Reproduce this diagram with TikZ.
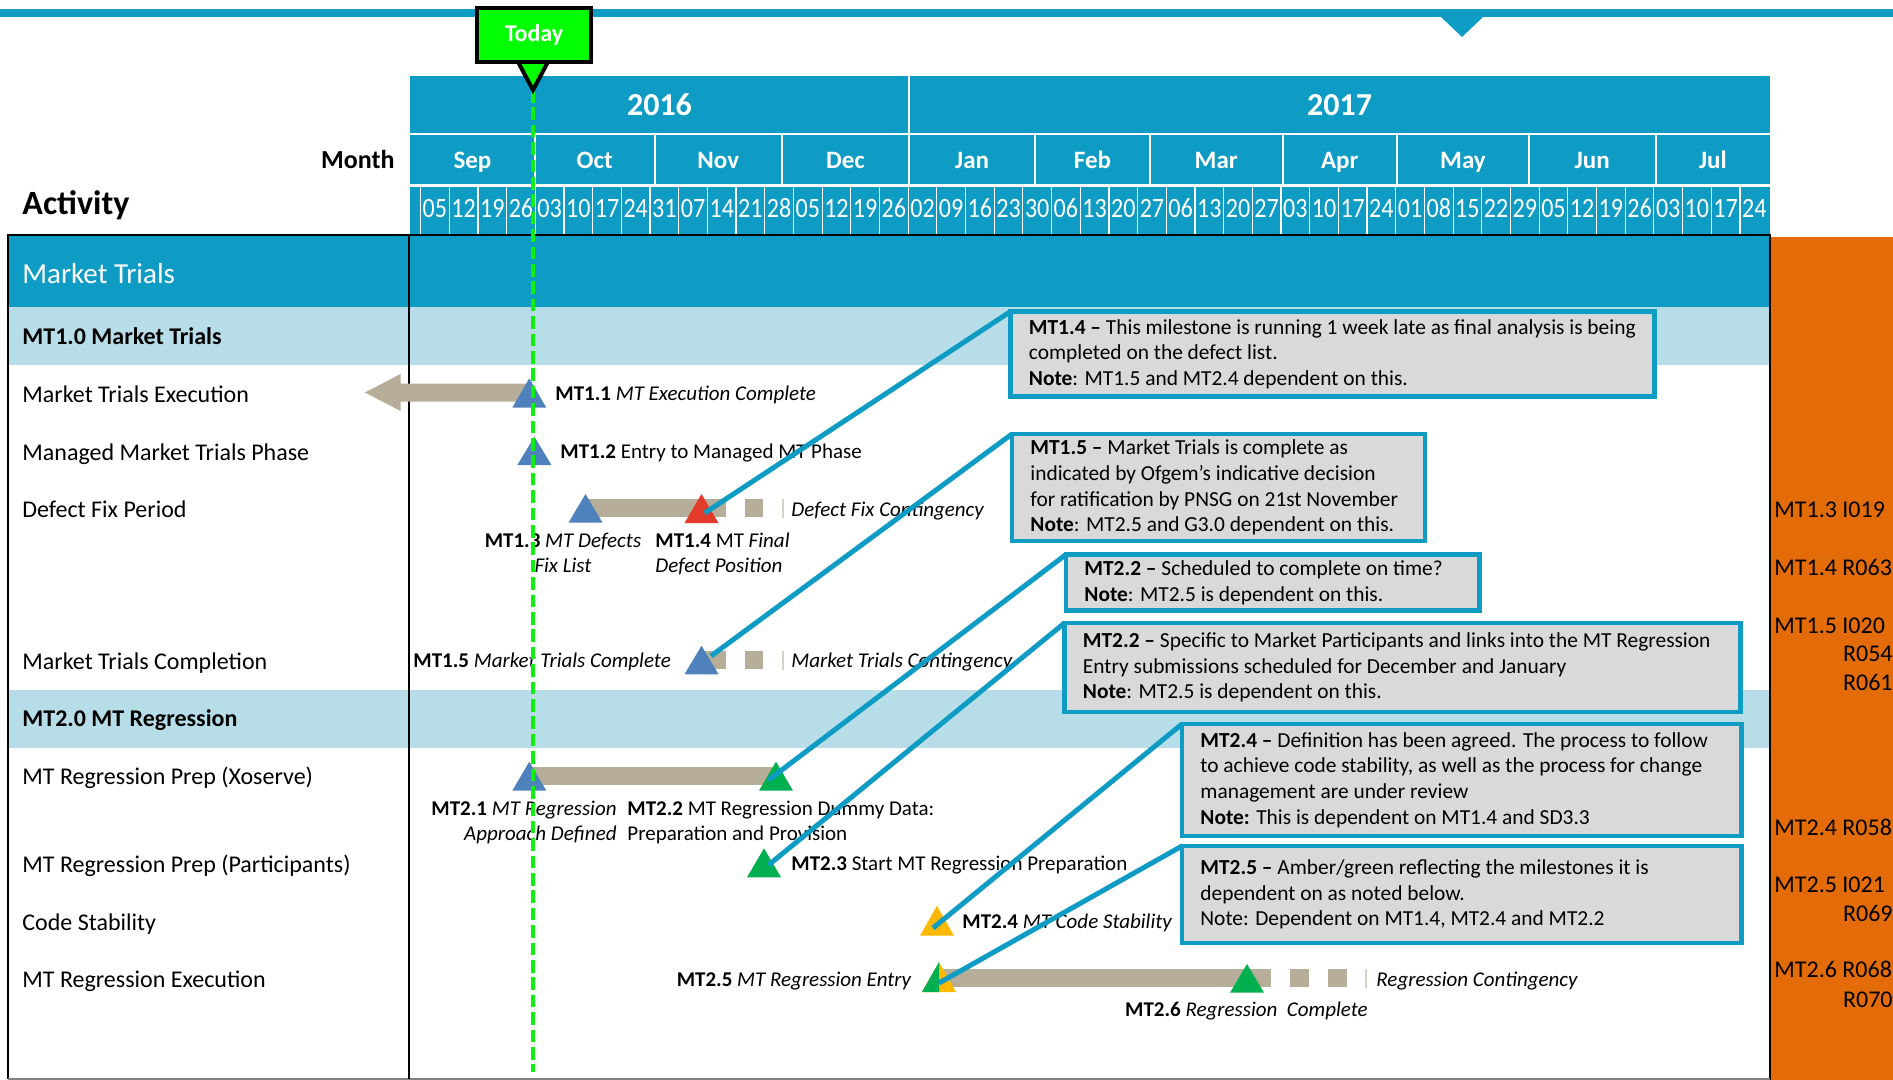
\documentclass[tikz,border=0pt]{standalone}
\usepackage{fontspec}
\setmainfont{Carlito}
\usepackage{graphicx}
\definecolor{hblue}{HTML}{0E9CC4}
\definecolor{lblue}{HTML}{B7DEE8}
\definecolor{cgray}{HTML}{D9D9D9}
\definecolor{tanc}{HTML}{B6AE98}
\definecolor{mblue}{HTML}{4F81BD}
\definecolor{mred}{HTML}{E23B2B}
\definecolor{mgreen}{HTML}{00B050}
\definecolor{mamber}{HTML}{FFB800}
\definecolor{orangec}{HTML}{E36C09}
\definecolor{todayg}{HTML}{00FF00}
\definecolor{dashg}{HTML}{10F010}
\newcommand\mstri[4]{\fill[#4] ({#1-17},#2) -- ({#1+17},#2) -- (#1,#3) -- cycle;}
\begin{document}
\begin{tikzpicture}[x=0.5pt,y=-0.5pt,
  rowlab/.style={font=\fontsize{12}{14}\selectfont, anchor=base west, inner sep=0pt},
  mslab/.style={font=\fontsize{10.5}{12.7}\selectfont, anchor=base west, inner sep=0pt},
  orlab/.style={font=\fontsize{12}{14}\selectfont, inner sep=0pt},
  datelab/.style={font=\fontsize{14}{16}\selectfont, text=white, anchor=base, inner sep=0pt},
  monlab/.style={font=\bfseries\fontsize{12.5}{15}\selectfont, text=white, anchor=base, inner sep=0pt},
  yearlab/.style={font=\bfseries\fontsize{16}{19}\selectfont, text=white, anchor=base, inner sep=0pt},
  cbox/.style={draw=hblue, line width=2.2pt, fill=cgray, anchor=north west, outer sep=0pt, inner sep=0pt},
  ctext/.style={font=\fontsize{10.7}{12.8}\selectfont, align=left, inner sep=0pt, anchor=west},
  cline/.style={draw=hblue, line width=2.5pt},
  contline/.style={draw=tanc!55, line width=1pt},
]
\useasboundingbox (0,0) rectangle (1893,1080);
\fill[white] (0,0) rectangle (1893,1080);

% top line with marker
\fill[hblue] (0,9.5) rectangle (1893,17.5);
\fill[hblue] (1441,17) -- (1483,17) -- (1462,37) -- cycle;

% header
\fill[hblue] (410,76) rectangle (1770,133);
\fill[hblue] (410,135.5) rectangle (1770,184.5);
\fill[hblue] (410,187) rectangle (1770,235);
\draw[white, line width=1pt] (909,76) -- (909,133);
\foreach \x in {535,654.5,782,909,1035,1150,1282.5,1397,1529,1655.5}
  \draw[white, line width=1pt] (\x,135.5) -- (\x,184.5);
\foreach \i in {0,...,46}
  \draw[white, line width=0.6pt] ({420.6+\i*28.68},187) -- ({420.6+\i*28.68},235);
\node[yearlab] (y2016) at (659.5,116) {2016};
\node[yearlab] (y2017) at (1339.5,116) {2017};
\foreach \m/\x [count=\k] in {Sep/472.5,Oct/594.75,Nov/718.25,Dec/845.5,Jan/972,Feb/1092.5,Mar/1216.25,Apr/1339.75,May/1463,Jun/1592.25,Jul/1712.75}
  \node[monlab] (mon\k) at (\x,169) {\m};
\foreach \d [count=\i from 0] in {05,12,19,26,03,10,17,24,31,07,14,21,28,05,12,19,26,02,09,16,23,30,06,13,20,27,06,13,20,27,03,10,17,24,01,08,15,22,29,05,12,19,26,03,10,17,24}
  \node[datelab] (d\i) at ({420.6+(\i+0.5)*28.68},218) {\scalebox{0.86}[1]{\d}};
\node[font=\bfseries\fontsize{13}{15}\selectfont, anchor=base east, inner sep=0pt] (monthhdr) at (395,169) {Month};
\node[font=\bfseries\fontsize{17}{20}\selectfont, anchor=base west, inner sep=0pt] (acthdr) at (22,215) {Activity};

% body background
\fill[orangec] (1771,237) rectangle (1893,1080);
\fill[hblue] (8,235) rectangle (1770,307);
\fill[lblue] (8,307) rectangle (1770,365);
\fill[lblue] (8,690) rectangle (1770,748);
\draw[black, line width=0.8pt] (1770,1080) -- (1770,235) -- (8,235) -- (8,1079);
\draw[gray, line width=0.8pt] (8,1079) -- (1770,1079);
\draw[black, line width=0.8pt] (409,235) -- (409,1079);

% row labels
\node[font=\fontsize{14.5}{17}\selectfont, text=white, anchor=base west, inner sep=0pt] (sec) at (22,283.3) {Market Trials};
\node[rowlab, font=\bfseries\fontsize{12}{14}\selectfont] (g10) at (22,344) {MT1.0 Market Trials};
\node[rowlab] (r1) at (22,402) {Market Trials Execution};
\node[rowlab] (r2) at (22,460) {Managed Market Trials Phase};
\node[rowlab] (r3) at (22,517.3) {Defect Fix Period};
\node[rowlab] (r4) at (22,669.3) {Market Trials Completion};
\node[rowlab, font=\bfseries\fontsize{12}{14}\selectfont] (g20) at (22,726.7) {MT2.0 MT Regression};
\node[rowlab] (r5) at (22,784.3) {MT Regression Prep (Xoserve)};
\node[rowlab] (r6) at (22,872.3) {MT Regression Prep (Participants)};
\node[rowlab] (r7) at (22,930) {Code Stability};
\node[rowlab] (r8) at (22,987.3) {MT Regression Execution};

% bars
\fill[tanc] (365,392.5) -- (400.5,374) -- (400.5,383.5) -- (529,383.5) -- (529,401.5) -- (400.5,401.5) -- (400.5,411) -- cycle;
\fill[tanc] (586,499.3) rectangle (726,517.3);
\fill[tanc] (745,499.3) rectangle (763,517.3);
\draw[contline] (782.5,499) -- (782.5,518);
\fill[tanc] (701,651) rectangle (726,669);
\fill[tanc] (745,651) rectangle (763,669);
\draw[contline] (782.5,651) -- (782.5,670);
\fill[tanc] (529,767.3) rectangle (776,785);
\fill[tanc] (939,969.3) rectangle (1270.5,987.3);
\fill[tanc] (1290,969.3) rectangle (1309,987.3);
\fill[tanc] (1328,969.3) rectangle (1346.5,987.3);
\draw[contline] (1365.5,969) -- (1365.5,988);

% milestones
\mstri{529.3}{407.7}{378.3}{mblue}
\mstri{534.4}{465}{436.7}{mblue}
\mstri{585.5}{522.7}{494}{mblue}
\mstri{701.5}{523}{494}{mred}
\mstri{701.5}{674.3}{645.7}{mblue}
\mstri{529.3}{790.7}{761.7}{mblue}
\mstri{776}{790.7}{761.7}{mgreen}
\mstri{764}{877.3}{848.3}{mgreen}
\mstri{937}{935.7}{905.7}{mamber}
\mstri{939}{992}{962}{mamber}
\fill[mgreen] (922,992) -- (939,992) -- (939,962) -- cycle;
\mstri{1247}{992.7}{964}{mgreen}
\coordinate (m14) at (704.7,513);
\coordinate (m15) at (711,656);
\coordinate (m22) at (768.5,780);
\coordinate (m23) at (768.5,865);
\coordinate (m24) at (933,928);
\coordinate (m25) at (939,983);

% milestone labels
\node[mslab] (l11) at (555,400) {\textbf{MT1.1} \textit{MT Execution Complete}};
\node[mslab] (l12) at (560,458.3) {\textbf{MT1.2} Entry to Managed MT Phase};
\node[mslab] (ldfc) at (791,516.7) {\textit{Defect Fix Contingency}};
\node[mslab, anchor=base] (l13a) at (563,547.3) {\textbf{MT1.3} \textit{MT Defects}};
\node[mslab, anchor=base] (l13b) at (563,572.7) {\textit{Fix List}};
\node[mslab] (l14a) at (655,547.3) {\textbf{MT1.4} MT \textit{Final}};
\node[mslab] (l14b) at (655,572.7) {\textit{Defect Position}};
\node[mslab] (l15) at (413,667.3) {\textbf{MT1.5} \textit{Market Trials Complete}};
\node[mslab] (lmtc) at (791,667.3) {\textit{Market Trials Contingency}};
\node[mslab, anchor=base east] (l21a) at (617,815.3) {\textbf{MT2.1} \textit{MT Regression}};
\node[mslab, anchor=base east] (l21b) at (617,840) {\textit{Approach Defined}};
\node[mslab] (l22a) at (627,815.3) {\textbf{MT2.2} MT Regression Dummy Data:};
\node[mslab] (l22b) at (627,840) {Preparation and Provision};
\node[mslab] (l23) at (791,870) {\textbf{MT2.3} Start MT Regression Preparation};
\node[mslab] (l24) at (962,928.3) {\textbf{MT2.4} \textit{MT Code Stability}};
\node[mslab, anchor=base east] (l25) at (912,986) {\textbf{MT2.5} \textit{MT Regression Entry}};
\node[mslab] (lrc) at (1376,986) {\textit{Regression Contingency}};
\node[mslab] (l26) at (1124.8,1016.7) {\textbf{MT2.6} \textit{Regression\ \ Complete}};

% orange column labels
\node[orlab, anchor=base west] (o13) at (1774,517.3) {MT1.3 I019};
\node[orlab, anchor=base west] (o14) at (1774,575.3) {MT1.4 R063};
\node[orlab, anchor=base west] (o15) at (1774,633.3) {MT1.5 I020};
\node[orlab, anchor=base east] (o15b) at (1893,661.7) {R054};
\node[orlab, anchor=base east] (o15c) at (1893,690) {R061};
\node[orlab, anchor=base west] (o24) at (1774,835) {MT2.4 R058};
\node[orlab, anchor=base west] (o25) at (1774,892.7) {MT2.5 I021};
\node[orlab, anchor=base east] (o25b) at (1893,921.7) {R069};
\node[orlab, anchor=base west] (o26) at (1774,977.7) {MT2.6 R068};
\node[orlab, anchor=base east] (o26b) at (1893,1007.3) {R070};

% today marker
\coordinate (todaytip) at (533,90);
\draw[dashg, line width=2pt, dash pattern=on 6.3pt off 2.4pt] (todaytip) -- (533,1072);
\filldraw[fill=todayg, draw=black, line width=2pt, line join=miter] (517,60) -- (todaytip) -- (549,60);
\node[draw=black, fill=todayg, line width=2pt, minimum width=57pt, minimum height=27pt, inner sep=0pt, outer sep=0pt, font=\bfseries\fontsize{12}{14}\selectfont, text=white] (today) at (534,35) {Today};

% callouts
\node[cbox, minimum width=322pt, minimum height=42.5pt] (c14) at (1010.5,311.5) {};
\node[cbox, minimum width=206.5pt, minimum height=53.5pt] (c15) at (1012,434) {};
\node[cbox, minimum width=206.75pt, minimum height=28pt] (c22a) at (1066,554.5) {};
\node[cbox, minimum width=338pt, minimum height=44.5pt] (c22b) at (1064.5,623) {};
\node[cbox, minimum width=279.75pt, minimum height=56pt] (c24) at (1182,724) {};
\node[cbox, minimum width=279.75pt, minimum height=48.5pt] (c25) at (1182,846) {};
\draw[cline] (c14.north west) -- (m14);
\draw[cline] (c15.north west) -- (m15);
\draw[cline] (c22a.north west) -- (m22);
\draw[cline] (c22b.north west) -- (m23);
\draw[cline] (c24.north west) -- (m24);
\draw[cline] (c25.north west) -- (m25);
\node[ctext] (c14t) at ([xshift=9pt]c14.west) {\textbf{MT1.4 –} This milestone is running 1 week late as final analysis is being\\completed on the defect list.\\\textbf{Note}: MT1.5 and MT2.4 dependent on this.};
\node[ctext] (c15t) at ([xshift=9pt]c15.west) {\textbf{MT1.5 –} Market Trials is complete as\\indicated by Ofgem’s indicative decision\\for ratification by PNSG on 21st November\\\textbf{Note}: MT2.5 and G3.0 dependent on this.};
\node[ctext] (c22at) at ([xshift=9pt]c22a.west) {\textbf{MT2.2 –} Scheduled to complete on time?\\\textbf{Note}: MT2.5 is dependent on this.};
\node[ctext] (c22bt) at ([xshift=9pt]c22b.west) {\textbf{MT2.2 –} Specific to Market Participants and links into the MT Regression\\Entry submissions scheduled for December and January\\\textbf{Note}: MT2.5 is dependent on this.};
\node[ctext] (c24t) at ([xshift=9pt]c24.west) {\textbf{MT2.4 –} Definition has been agreed. The process to follow\\to achieve code stability, as well as the process for change\\management are under review\\\textbf{Note:} This is dependent on MT1.4 and SD3.3};
\node[ctext] (c25t) at ([xshift=9pt]c25.west) {\textbf{MT2.5 –} Amber/green reflecting the milestones it is\\dependent on as noted below.\\Note: Dependent on MT1.4, MT2.4 and MT2.2};
\end{tikzpicture}
\end{document}
